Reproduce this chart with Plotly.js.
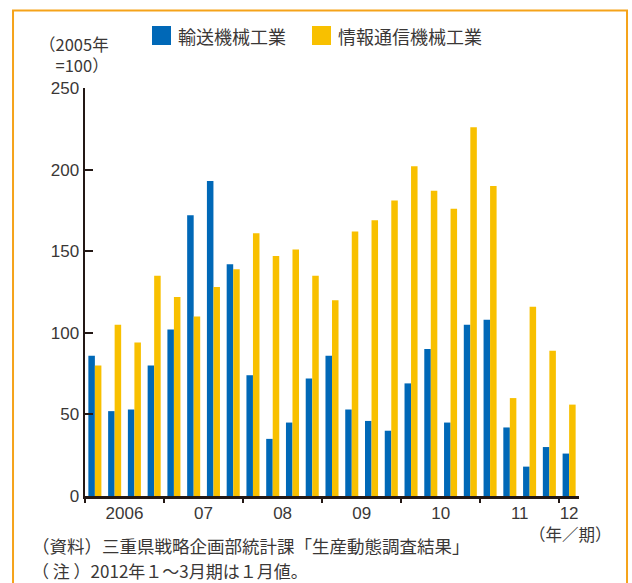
<!DOCTYPE html>
<html>
<head>
<meta charset="utf-8">
<script src="https://cdn.plot.ly/plotly-3.0.1.min.js"></script>
<style>html,body{margin:0;padding:0;background:#fff;}#chart{width:632px;height:583px;}</style>
</head>
<body>
<div id="chart"></div>
<script>
// Quarter index 0..24 : 2006 Q1 ... 2012 Q1
const quarters = Array.from({length: 25}, (_, i) => i);
const transport = [86, 52, 53, 80, 102, 172, 193, 142, 74, 35, 45, 72, 86, 53, 46, 40, 69, 90, 45, 105, 108, 42, 18, 30, 26];
const infocomm  = [80, 105, 94, 135, 122, 110, 128, 139, 161, 147, 151, 135, 120, 162, 169, 181, 202, 187, 176, 226, 190, 60, 116, 89, 56];
const seriesNames = ['輸送機械工業', '情報通信機械工業'];
const seriesColors = ['#0068B7', '#F8C000'];
const yearLabels = ['2006', '07', '08', '09', '10', '11', '12'];
const yearLabelPos = [1.5, 5.5, 9.5, 13.5, 17.5, 21.5, 24];
const yearBoundaries = [-0.5, 3.5, 7.5, 11.5, 15.5, 19.5, 23.5];
const yTicks = [0, 50, 100, 150, 200, 250];

const ink = '#231815';
const textInk = '#3a3736';
const fontFam = "'Liberation Sans', 'Noto Sans CJK JP', sans-serif";
const jpFam = "'Noto Sans CJK JP', 'Liberation Sans', sans-serif";

const data = [
  {type: 'bar', x: quarters, y: transport, name: seriesNames[0], marker: {color: seriesColors[0]}},
  {type: 'bar', x: quarters, y: infocomm, name: seriesNames[1], marker: {color: seriesColors[1]}},
  {type: 'scatter', x: [quarters[0]], y: [0], xaxis: 'x2', mode: 'markers', marker: {opacity: 0}, showlegend: false, hoverinfo: 'skip'}
];

// custom legend (paper coordinates relative to plot area)
const legendSquares = [
  {x0: 0.1356, x1: 0.1741},
  {x0: 0.4595, x1: 0.4980}
];
const legendTextX = [0.1842, 0.5081];

const shapes = [
  {type: 'rect', xref: 'paper', yref: 'paper', x0: -0.1457, x1: 1.0972, y0: -0.35, y1: 1.19,
   line: {color: '#F5A31A', width: 2}, fillcolor: 'rgba(0,0,0,0)', layer: 'below'}
];
legendSquares.forEach((s, i) => shapes.push({
  type: 'rect', xref: 'paper', yref: 'paper', x0: s.x0, x1: s.x1, y0: 1.1054, y1: 1.152,
  line: {width: 0}, fillcolor: seriesColors[i]
}));

const annotations = [
  {xref: 'paper', yref: 'paper', x: 0.052, y: 1.022, xanchor: 'right', yanchor: 'bottom', align: 'right',
   showarrow: false, text: '（2005年<br>=100）', font: {family: jpFam, size: 16.5, color: textInk}},
  {xref: 'paper', yref: 'paper', x: 0.982, y: -0.092, xanchor: 'center', yanchor: 'middle',
   showarrow: false, text: '（年／期）', font: {family: jpFam, size: 16.5, color: textInk}},
  {xref: 'paper', yref: 'paper', x: -0.111, y: -0.1225, xanchor: 'left', yanchor: 'middle',
   showarrow: false, text: '（資料）三重県戦略企画部統計課「生産動態調査結果」', font: {family: jpFam, size: 17.5, color: textInk}},
  {xref: 'paper', yref: 'paper', x: -0.111, y: -0.182, xanchor: 'left', yanchor: 'middle',
   showarrow: false, text: '（ 注 ）2012年１～3月期は１月値。', font: {family: jpFam, size: 17, color: textInk}}
];
seriesNames.forEach((n, i) => annotations.push({
  xref: 'paper', yref: 'paper', x: legendTextX[i], y: 1.1275, xanchor: 'left', yanchor: 'middle',
  showarrow: false, text: n, font: {family: jpFam, size: 18, color: textInk}
}));

const layout = {
  width: 632, height: 583,
  margin: {l: 85, r: 53, t: 88, b: 87, autoexpand: false},
  paper_bgcolor: '#fff', plot_bgcolor: '#fff',
  font: {family: fontFam, color: ink, size: 17},
  barmode: 'group', bargap: 0.34, bargroupgap: 0,
  showlegend: false,
  xaxis: {
    range: [-0.5, 24.5], tickmode: 'array', tickvals: yearLabelPos, ticktext: yearLabels,
    ticks: '', showgrid: false, zeroline: false,
    showline: true, linecolor: ink, linewidth: 3,
    tickfont: {size: 17, color: textInk}, fixedrange: true
  },
  xaxis2: {
    overlaying: 'x', matches: 'x', anchor: 'y', side: 'bottom',
    tickmode: 'array', tickvals: yearBoundaries, ticks: 'outside', ticklen: 6, tickwidth: 2.5, tickcolor: ink,
    showticklabels: false, showgrid: false, zeroline: false, showline: false
  },
  yaxis: {
    range: [0, 250], tickmode: 'array', tickvals: yTicks,
    ticks: 'inside', ticklen: 8, tickwidth: 2, tickcolor: ink,
    showline: true, linecolor: ink, linewidth: 2.5,
    showgrid: false, zeroline: false, tickfont: {size: 17, color: textInk}, fixedrange: true
  },
  shapes: shapes,
  annotations: annotations
};

Plotly.newPlot('chart', data, layout, {displayModeBar: false, staticPlot: true});
</script>
</body>
</html>
